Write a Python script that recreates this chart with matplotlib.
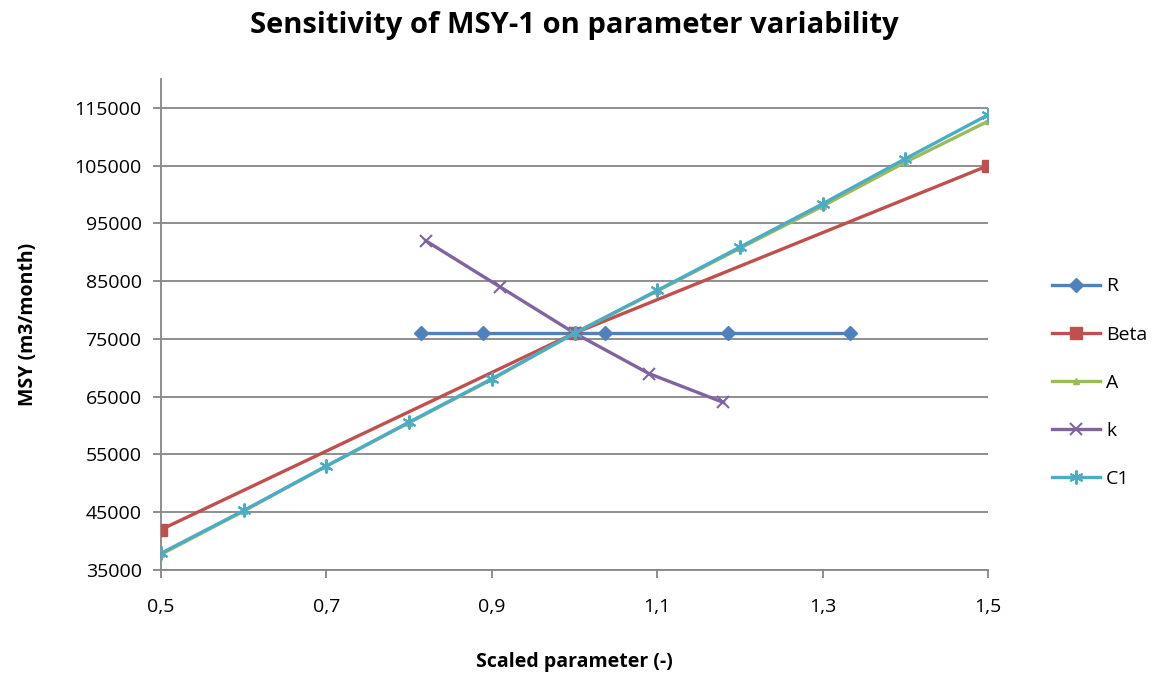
import matplotlib
matplotlib.use("Agg")
import matplotlib.pyplot as plt
from matplotlib.ticker import FixedLocator, FuncFormatter

plt.rcParams['font.family'] = ['Open Sans', 'DejaVu Sans']

# Data
r_x = [22/27, 24/27, 1.0, 28/27, 32/27, 36/27]
r_y = [76000, 76000, 76000, 76000, 76000, 76000]
beta_x = [0.5, 1.0, 1.5]
beta_y = [42000, 76000, 105000]
a_x = [0.5, 0.6, 0.7, 0.8, 0.9, 1.0, 1.1, 1.2, 1.3, 1.4, 1.5]
a_y = [37700, 45200, 53000, 60500, 68000, 76000, 83300, 90700, 98000, 105600, 112700]
k_x = [0.82, 0.91, 1.0, 1.09, 1.18]
k_y = [92000, 84000, 76000, 69000, 64000]
c1_x = [0.5, 0.6, 0.7, 0.8, 0.9, 1.0, 1.1, 1.2, 1.3, 1.4, 1.5]
c1_y = [37900, 45300, 53000, 60600, 68100, 76000, 83400, 90900, 98400, 106200, 113800]

x_ticks = [0.5, 0.7, 0.9, 1.1, 1.3, 1.5]
y_ticks = [35000, 45000, 55000, 65000, 75000, 85000, 95000, 105000, 115000]

fig = plt.figure(figsize=(11.61, 6.81), dpi=100)
ax = fig.add_axes([0.1387, 0.163, 0.7124, 0.721])

lw = 2.4
ax.plot(r_x, r_y, color='#4F81BD', lw=lw, marker='D', ms=7, label='R', zorder=3)
ax.plot(beta_x, beta_y, color='#C0504D', lw=lw, marker='s', ms=9, label='Beta', zorder=3)
ax.plot(a_x, a_y, color='#9BBB59', lw=lw, marker='^', ms=4, label='A', zorder=3)
ax.plot(k_x, k_y, color='#8064A2', lw=lw, marker='x', ms=9, mew=1.5, label='k', zorder=3)
ax.plot(c1_x, c1_y, color='#4BACC6', lw=lw, marker=(6, 2, 0), ms=10, mew=1.5, label='C1', zorder=3)

ax.set_xlim(0.5, 1.5)
ax.set_ylim(35000, 120000)
ax.xaxis.set_major_locator(FixedLocator(x_ticks))
ax.yaxis.set_major_locator(FixedLocator(y_ticks))
ax.xaxis.set_major_formatter(FuncFormatter(lambda v, p: f"{v:.1f}".replace('.', ',')))
ax.yaxis.set_major_formatter(FuncFormatter(lambda v, p: f"{int(v)}"))
ax.grid(axis='y', color='#868686', lw=1.3, zorder=0)
ax.set_axisbelow(True)
for s in ['top', 'right']:
    ax.spines[s].set_visible(False)
for s in ['left', 'bottom']:
    ax.spines[s].set_color('#868686')
    ax.spines[s].set_linewidth(1.3)
ax.tick_params(axis='both', direction='out', length=6, width=1.3, color='#868686',
               labelsize=14, pad=8, labelcolor='black')
ax.tick_params(axis='x', pad=14)

ax.set_xlabel('Scaled parameter (-)', fontsize=14, fontweight='bold', labelpad=26)
ax.set_ylabel('MSY (m3/month)', fontsize=14, fontweight='bold', labelpad=26)
fig.text(0.495, 0.962, 'Sensitivity of MSY-1 on parameter variability', ha='center', va='center',
         fontsize=21, fontweight='bold')

fig.legend(loc='center left', bbox_to_anchor=(0.899, 0.438), frameon=False, fontsize=14,
           handlelength=2.5, labelspacing=1.55, handletextpad=0.3, borderaxespad=0)

fig.savefig('out.png', dpi=100)
